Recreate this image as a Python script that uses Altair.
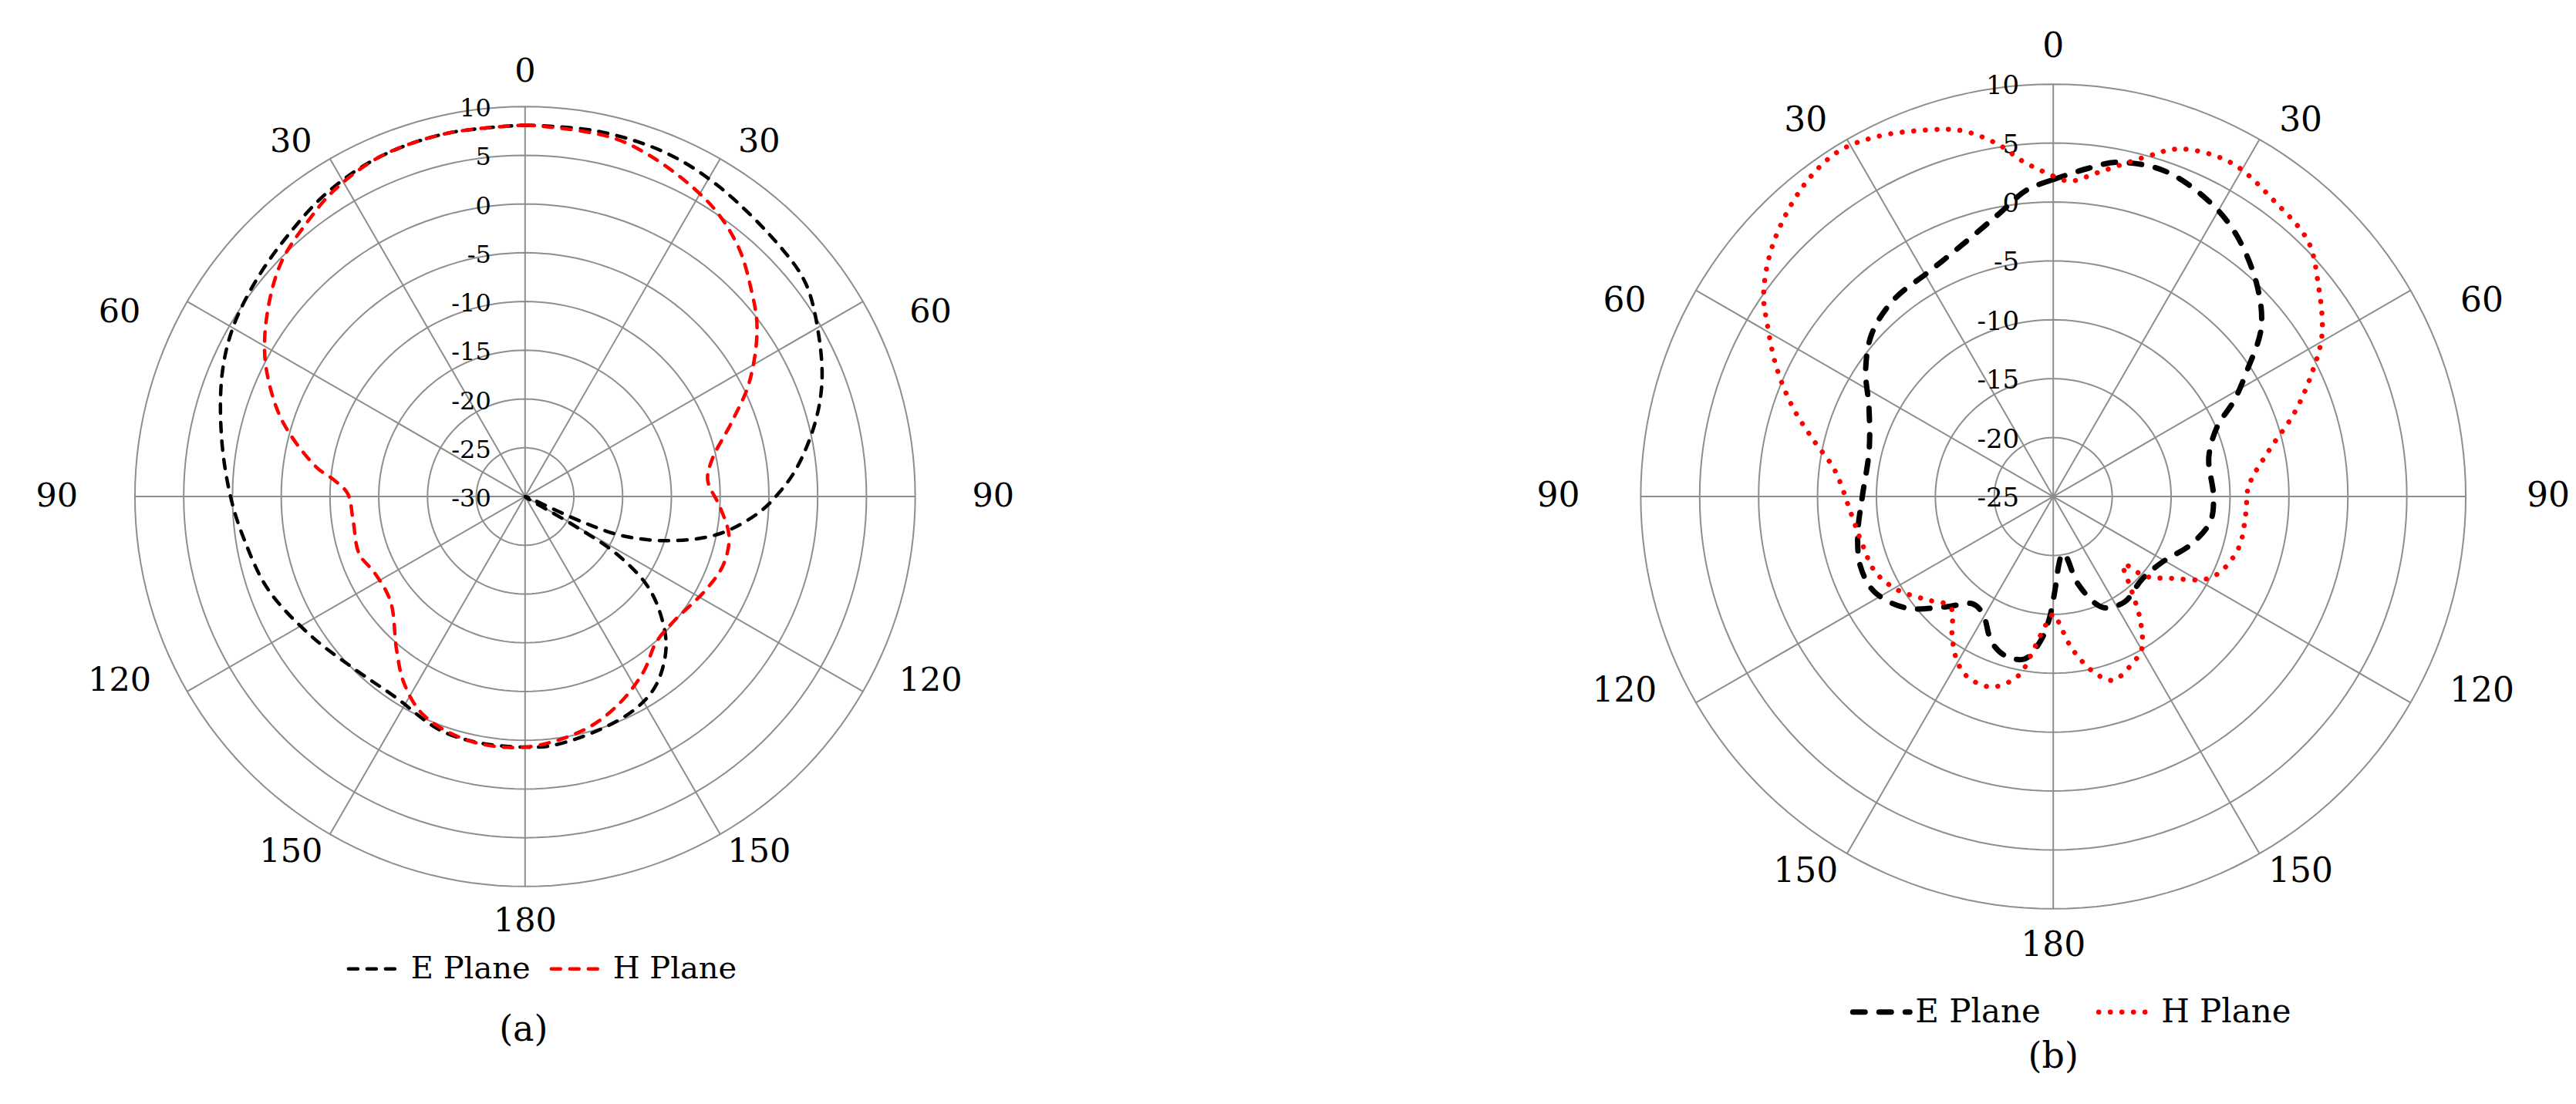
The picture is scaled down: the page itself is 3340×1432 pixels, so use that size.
import altair as alt
import pandas as pd

# ---------------- data (angle in degrees clockwise from top, gain in dB) -------------
a_E_ang = [0, 11, 22, 32, 46, 53, 61, 69, 76, 84, 89, 94, 101, 107, 112, 114, 117, 120.6, 122,
           126, 131, 137, 145, 152, 162, 174, 180, 190, 200, 213, 225, 237, 250, 261, 270, 281,
           292, 300, 309, 318, 327, 337, 348, 360]
a_E_db = [8.1, 8.2, 8.1, 7.5, 6.6, 6.1, 4.4, 2.6, 0.6, -2.0, -3.9, -6.0, -9.8, -14.5, -19.3,
          -23.8, -30.0, -24.3, -19.1, -14.6, -11.6, -8.8, -6.5, -5.5, -4.9, -4.3, -4.3, -4.3,
          -4.5, -5.5, -5.1, -3.8, -2.0, -0.9, 0.2, 1.7, 3.5, 4.6, 5.4, 6.2, 7.2, 7.9, 8.1, 8.1]

a_H_ang = [0, 15, 31, 40, 47, 54, 63, 70, 79, 85, 93, 101, 109, 118, 130, 138, 146, 156, 166, 180,
           193, 205, 213, 220, 232, 243, 251, 262, 271, 275, 278, 285, 290, 298, 306, 314, 322,
           328, 337, 348, 360]
a_H_db = [8.1, 7.8, 5.7, 3.8, 1.6, -0.6, -4.2, -7.4, -10.5, -11.2, -10.0, -8.7, -8.5, -9.2, -10.1,
          -9.9, -8.3, -6.6, -5.3, -4.3, -4.3, -5.3, -7.2, -9.5, -12.5, -12.7, -12.0, -12.2, -11.8,
          -10.3, -8.4, -5.0, -2.8, 0.2, 2.6, 4.7, 6.0, 7.0, 7.9, 8.1, 8.1]

b_E_ang = [0, 6, 11, 19, 28, 35, 44, 51, 57, 62, 67, 76, 90, 99, 109, 121, 133, 146, 156, 164, 168,
           171, 175, 179, 182, 185, 190, 197, 203, 211, 217, 224, 233, 242, 250, 259, 270, 284,
           296, 304, 312, 321, 331, 340, 349, 355, 360]
b_E_db = [1.9, 3.0, 3.9, 4.2, 3.3, 2.1, -0.1, -2.3, -5.4, -7.6, -9.9, -11.4, -11.4, -11.5, -12.6,
          -14.2, -14.7, -14.2, -14.7, -17.2, -19.8, -20.1, -19.3, -17.0, -14.5, -12.7, -11.0,
          -10.9, -11.6, -13.4, -13.6, -12.0, -9.3, -7.8, -7.6, -8.1, -8.8, -8.9, -7.6, -5.8,
          -4.3, -3.5, -3.2, -2.3, -0.6, 1.1, 1.9]

b_H_ang = [0, 3, 8, 15, 20, 28, 37, 45, 51, 59, 65, 71, 78, 87, 95, 106, 117, 125, 131, 134, 140,
           145, 150, 154, 162, 167, 173, 178, 180, 185, 188, 191, 198, 206, 211, 216, 223, 231,
           239, 247, 256, 265, 277, 283, 289, 295, 301, 305, 312, 321, 328, 334, 341, 346, 351,
           355, 360]
b_H_db = [2.2, 1.8, 2.8, 4.8, 6.4, 7.1, 6.3, 5.6, 3.9, 1.6, -0.9, -3.4, -6.3, -8.4, -8.6, -8.7,
          -9.9, -12.9, -14.7, -16.7, -14.7, -12.1, -10.0, -9.4, -8.6, -9.7, -12.0, -14.5, -15.0,
          -13.3, -11.4, -9.5, -8.0, -8.1, -9.0, -10.4, -12.2, -11.1, -9.6, -8.6, -8.3, -7.8,
          -6.3, -4.2, -1.6, 0.9, 3.3, 5.0, 7.0, 8.8, 9.5, 9.0, 7.9, 7.0, 5.3, 3.5, 2.2]

a_rings = [-30, -25, -20, -15, -10, -5, 0, 5, 10]
b_rings = [-25, -20, -15, -10, -5, 0, 5, 10]
spoke_angles = [0, 30, 60, 90, 120, 150, 180, 210, 240, 270, 300, 330]
spoke_labels = ["0", "30", "60", "90", "120", "150", "180", "150", "120", "90", "60", "30"]
series_names = ["E Plane", "H Plane"]

# ---------------- layout ----------------
W, H = 1662, 1416
FONT = "DejaVu Serif"
GRID = "#8E8E8E"


def panel(E_ang, E_db, H_ang, H_db, rings, cx, cy, R, radfont, angfont, legfont,
          e_style, h_style, leg, caption, cap_xy):
    rmin, rmax = rings[0], rings[-1]
    span = rmax - rmin
    k = R / span
    xs = alt.Scale(domain=[-cx / k, (W - cx) / k], nice=False, zero=False)
    ys = alt.Scale(domain=[-(H - cy) / k, cy / k], nice=False, zero=False)
    X = lambda f: alt.X(f, type="quantitative", scale=xs, axis=None)
    Y = lambda f: alt.Y(f, type="quantitative", scale=ys, axis=None)
    rad = "datum.ang*PI/180"

    # rings
    ring_df = pd.DataFrame([{"ring": v, "ang": a} for v in rings[1:] for a in range(0, 361, 2)])
    ring_layer = alt.Chart(ring_df).transform_calculate(
        r=f"datum.ring - ({rmin})"
    ).transform_calculate(
        x=f"datum.r*sin({rad})", y=f"datum.r*cos({rad})"
    ).mark_line(color=GRID, strokeWidth=2).encode(
        x=X("x"), y=Y("y"), detail="ring:N", order="ang:Q")

    # spokes
    spoke_df = pd.DataFrame({"ang": spoke_angles})
    spoke_layer = alt.Chart(spoke_df).transform_calculate(
        x0="0", y0="0", x=f"{span}*sin({rad})", y=f"{span}*cos({rad})"
    ).mark_rule(color=GRID, strokeWidth=2).encode(
        x=X("x0"), y=Y("y0"), x2="x", y2="y")

    # radial tick labels
    rl_df = pd.DataFrame({"v": rings, "txt": [str(v) for v in rings]})
    rl_layer = alt.Chart(rl_df).transform_calculate(
        x="0", y=f"datum.v - ({rmin})"
    ).mark_text(align="right", baseline="middle", dx=-44, dy=3, fontSize=radfont,
                font=FONT, color="black").encode(x=X("x"), y=Y("y"), text="txt:N")

    # angle labels (placed just outside the outer ring)
    al_df = pd.DataFrame({"ang": spoke_angles, "txt": spoke_labels})
    al_layer = alt.Chart(al_df).transform_calculate(
        s=f"sin({rad})", c=f"cos({rad})"
    ).transform_calculate(
        x=f"{span}*1.2*datum.s",
        y=f"{span}*(0.80 + 0.29*abs(datum.c))*datum.c"
    ).mark_text(align="center", baseline="middle", fontSize=angfont, font=FONT,
                color="black").encode(x=X("x"), y=Y("y"), text="txt:N")

    def series_layer(ang, db, style):
        df = pd.DataFrame({"ang": ang, "db": db})
        return alt.Chart(df).transform_calculate(
            r=f"max(datum.db - ({rmin}), 0)"
        ).transform_calculate(
            x=f"datum.r*sin({rad})", y=f"datum.r*cos({rad})"
        ).mark_line(interpolate="catmull-rom", **style).encode(
            x=X("x"), y=Y("y"), order="ang:Q")

    e_layer = series_layer(E_ang, E_db, e_style)
    h_layer = series_layer(H_ang, H_db, h_style)

    # legend (drawn with marks)
    one = pd.DataFrame({"k": [0]})
    legs = []
    for name, style, (x0, x1, tx, ly) in zip(series_names, [e_style, h_style], leg):
        legs.append(alt.Chart(one).mark_rule(**style).encode(
            x=alt.value(x0), x2=alt.value(x1), y=alt.value(ly)))
        legs.append(alt.Chart(one).mark_text(align="left", baseline="middle", fontSize=legfont,
                                             font=FONT, color="black").encode(
            x=alt.value(tx), y=alt.value(ly), text=alt.value(name)))
    cap = alt.Chart(one).mark_text(align="center", baseline="middle", fontSize=46, font=FONT,
                                   color="black").encode(
        x=alt.value(cap_xy[0]), y=alt.value(cap_xy[1]), text=alt.value(caption))

    return alt.layer(ring_layer, spoke_layer, rl_layer, al_layer, e_layer, h_layer,
                     *legs, cap).properties(width=W, height=H)


a_e_style = dict(color="#000000", strokeWidth=4.5, strokeDash=[12, 12], strokeCap="round")
a_h_style = dict(color="#FF0000", strokeWidth=4.5, strokeDash=[12, 12], strokeCap="round")
b_e_style = dict(color="#000000", strokeWidth=7, strokeDash=[16, 18], strokeCap="round")
b_h_style = dict(color="#FF0000", strokeWidth=6.5, strokeDash=[0.1, 14.9], strokeCap="round")

left = panel(a_E_ang, a_E_db, a_H_ang, a_H_db, a_rings, 673, 636, 506, 32, 43, 40,
             a_e_style, a_h_style,
             [(444, 510, 525, 1249), (707, 772, 787, 1249)], "(a)", (671, 1328))
right = panel(b_E_ang, b_E_db, b_H_ang, b_H_db, b_rings, 993, 636, 535, 34, 44, 42,
              b_e_style, b_h_style,
              [(733, 807, 814, 1305), (1052, 1123, 1133, 1305)], "(b)", (993, 1363))

chart = alt.hconcat(left, right, spacing=0).properties(
    padding=0, background="white"
).configure_view(stroke=None)

chart.save("out.html", embed_options={"renderer": "svg", "actions": False})
